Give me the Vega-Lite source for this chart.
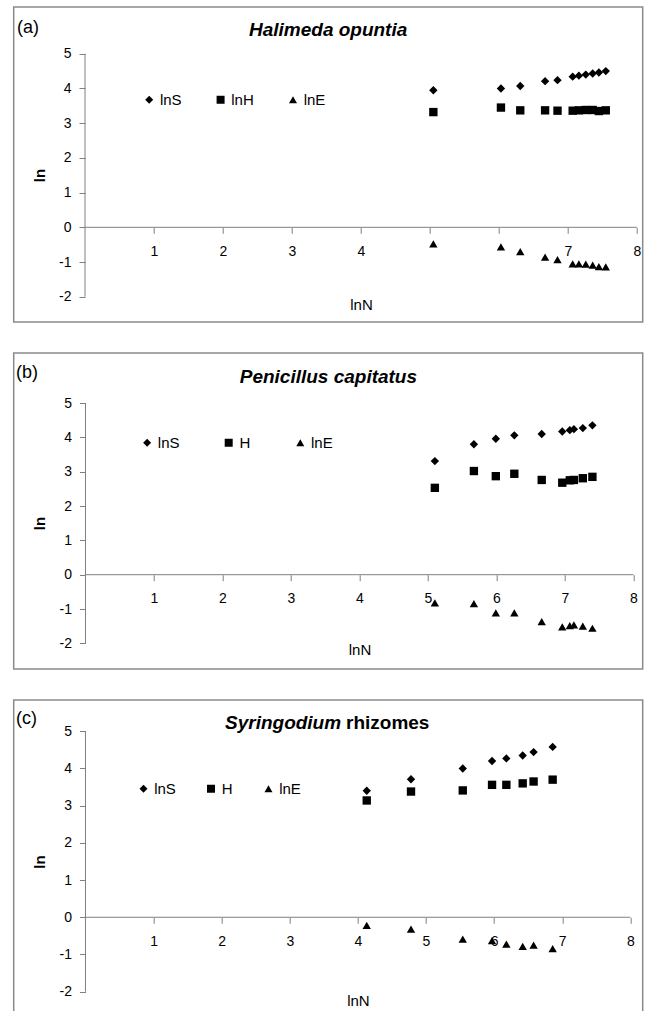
{
  "$schema": "https://vega.github.io/schema/vega-lite/v6.json",
  "padding": {"left": 12.7, "top": 6, "right": 2, "bottom": 5},
  "background": "white",
  "spacing": 31,
  "bounds": "flush",
  "config": {
    "font": "Liberation Sans",
    "view": {"stroke": "#8a8a8a", "strokeWidth": 1.5},
    "axis": {"domain": false, "grid": false, "tickColor": "#808080", "tickSize": 6, "labelColor": "#000", "labelFontSize": 14, "titleColor": "#000", "titleFontSize": 15}
  },
  "datasets": {
    "a": [
      {"lnN": 5.05, "lnS": 3.95, "lnH": 3.32, "lnE": -0.48},
      {"lnN": 6.03, "lnS": 4.00, "lnH": 3.45, "lnE": -0.56},
      {"lnN": 6.31, "lnS": 4.07, "lnH": 3.37, "lnE": -0.70},
      {"lnN": 6.67, "lnS": 4.21, "lnH": 3.37, "lnE": -0.86},
      {"lnN": 6.85, "lnS": 4.24, "lnH": 3.36, "lnE": -0.93},
      {"lnN": 7.07, "lnS": 4.34, "lnH": 3.36, "lnE": -1.05},
      {"lnN": 7.16, "lnS": 4.37, "lnH": 3.37, "lnE": -1.05},
      {"lnN": 7.26, "lnS": 4.40, "lnH": 3.38, "lnE": -1.06},
      {"lnN": 7.36, "lnS": 4.43, "lnH": 3.38, "lnE": -1.09},
      {"lnN": 7.45, "lnS": 4.46, "lnH": 3.35, "lnE": -1.13},
      {"lnN": 7.55, "lnS": 4.50, "lnH": 3.37, "lnE": -1.14}
    ],
    "b": [
      {"lnN": 5.10, "lnS": 3.31, "lnH": 2.53, "lnE": -0.82},
      {"lnN": 5.67, "lnS": 3.80, "lnH": 3.02, "lnE": -0.84},
      {"lnN": 5.99, "lnS": 3.96, "lnH": 2.87, "lnE": -1.11},
      {"lnN": 6.26, "lnS": 4.06, "lnH": 2.94, "lnE": -1.11},
      {"lnN": 6.66, "lnS": 4.10, "lnH": 2.76, "lnE": -1.37},
      {"lnN": 6.96, "lnS": 4.17, "lnH": 2.68, "lnE": -1.52},
      {"lnN": 7.07, "lnS": 4.21, "lnH": 2.75, "lnE": -1.48},
      {"lnN": 7.13, "lnS": 4.24, "lnH": 2.76, "lnE": -1.46},
      {"lnN": 7.26, "lnS": 4.27, "lnH": 2.81, "lnE": -1.50},
      {"lnN": 7.40, "lnS": 4.35, "lnH": 2.85, "lnE": -1.56}
    ],
    "c": [
      {"lnN": 4.13, "lnS": 3.40, "lnH": 3.14, "lnE": -0.22},
      {"lnN": 4.78, "lnS": 3.71, "lnH": 3.38, "lnE": -0.32},
      {"lnN": 5.54, "lnS": 4.00, "lnH": 3.41, "lnE": -0.59},
      {"lnN": 5.97, "lnS": 4.20, "lnH": 3.56, "lnE": -0.63},
      {"lnN": 6.18, "lnS": 4.27, "lnH": 3.56, "lnE": -0.72},
      {"lnN": 6.42, "lnS": 4.35, "lnH": 3.60, "lnE": -0.78},
      {"lnN": 6.58, "lnS": 4.44, "lnH": 3.65, "lnE": -0.75},
      {"lnN": 6.86, "lnS": 4.58, "lnH": 3.70, "lnE": -0.84}
    ]
  },
  "resolve": {"scale": {"shape": "independent"}, "legend": {"shape": "independent"}},
  "vconcat": [
    {
      "width": 629, "height": 315,
      "layer": [
        {
          "data": {"values": [{}]},
          "mark": {"type": "rule", "color": "#808080", "strokeWidth": 1},
          "encoding": {
            "x": {"datum": 0, "type": "quantitative", "scale": {"domain": [-1.034, 8.085], "nice": false, "zero": false}},
            "y": {"datum": -2, "type": "quantitative", "scale": {"domain": [-2.728, 6.347], "nice": false, "zero": false}},
            "y2": {"datum": 5}
          }
        },
        {
          "data": {"values": [{}]},
          "mark": {"type": "rule", "color": "#808080", "strokeWidth": 1},
          "encoding": {
            "x": {"datum": 0, "type": "quantitative", "scale": {"domain": [-1.034, 8.085], "nice": false, "zero": false}},
            "x2": {"datum": 8},
            "y": {"datum": 0, "type": "quantitative", "scale": {"domain": [-2.728, 6.347], "nice": false, "zero": false}}
          }
        },
        {
          "data": {"name": "a"},
          "transform": [{"fold": ["lnS", "lnH", "lnE"], "as": ["series", "value"]}],
          "mark": {"type": "point", "filled": true, "opacity": 1, "color": "#000", "size": 70},
          "encoding": {
            "x": {"field": "lnN", "type": "quantitative", "scale": {"domain": [-1.034, 8.085], "nice": false, "zero": false},
              "axis": {"values": [1, 2, 3, 4, 5, 6, 7, 8], "offset": -94.7, "labelPadding": 11, "labelExpr": "datum.value == 5 || datum.value == 6 ? '' : '' + datum.value", "title": "lnN", "titleFontWeight": "normal", "titleX": 347.3, "titleY": 77.2, "titleBaseline": "middle", "titleAlign": "center"}},
            "y": {"field": "value", "type": "quantitative", "scale": {"domain": [-2.728, 6.347], "nice": false, "zero": false},
              "axis": {"values": [-2, -1, 0, 1, 2, 3, 4, 5], "offset": -71.3, "labelPadding": 8, "labelExpr": "'' + datum.value", "title": "ln", "titleFontWeight": "bold", "titleAngle": -90, "titleX": -45, "titleY": 168, "titleBaseline": "middle", "titleAlign": "center"}},
            "shape": {"field": "series", "type": "nominal", "scale": {"domain": ["lnS", "lnH", "lnE"], "range": ["diamond", "square", "triangle-up"]},
              "legend": {"orient": "none", "legendX": 128, "legendY": 85, "direction": "horizontal", "title": null, "padding": 0, "labelFontSize": 15, "labelColor": "#000", "labelOffset": 3.2, "columnPadding": 31.4, "symbolSize": 64, "symbolFillColor": "#000", "symbolStrokeWidth": 0}}
          }
        },
        {
          "data": {"values": [{}]},
          "mark": {"type": "text", "text": "(a)", "align": "left", "baseline": "alphabetic", "fontSize": 18, "color": "#000"},
          "encoding": {
            "x": {"datum": -0.987, "type": "quantitative", "scale": {"domain": [-1.034, 8.085], "nice": false, "zero": false}},
            "y": {"datum": 5.612, "type": "quantitative", "scale": {"domain": [-2.728, 6.347], "nice": false, "zero": false}}
          }
        },
        {
          "data": {"values": [{}]},
          "mark": {"type": "text", "text": "Halimeda opuntia", "align": "center", "baseline": "alphabetic", "fontSize": 19, "fontWeight": "bold", "fontStyle": "italic", "color": "#000"},
          "encoding": {
            "x": {"datum": 3.525, "type": "quantitative", "scale": {"domain": [-1.034, 8.085], "nice": false, "zero": false}},
            "y": {"datum": 5.511, "type": "quantitative", "scale": {"domain": [-2.728, 6.347], "nice": false, "zero": false}}
          }
        }
      ]
    },
    {
      "width": 629, "height": 316,
      "layer": [
        {
          "data": {"values": [{}]},
          "mark": {"type": "rule", "color": "#808080", "strokeWidth": 1},
          "encoding": {
            "x": {"datum": 0, "type": "quantitative", "scale": {"domain": [-1.048, 8.134], "nice": false, "zero": false}},
            "y": {"datum": -2, "type": "quantitative", "scale": {"domain": [-2.747, 6.458], "nice": false, "zero": false}},
            "y2": {"datum": 5}
          }
        },
        {
          "data": {"values": [{}]},
          "mark": {"type": "rule", "color": "#808080", "strokeWidth": 1},
          "encoding": {
            "x": {"datum": 0, "type": "quantitative", "scale": {"domain": [-1.048, 8.134], "nice": false, "zero": false}},
            "x2": {"datum": 8},
            "y": {"datum": 0, "type": "quantitative", "scale": {"domain": [-2.747, 6.458], "nice": false, "zero": false}}
          }
        },
        {
          "data": {"name": "b"},
          "transform": [{"fold": ["lnS", "lnH", "lnE"], "as": ["series", "value"]}],
          "mark": {"type": "point", "filled": true, "opacity": 1, "color": "#000", "size": 70},
          "encoding": {
            "x": {"field": "lnN", "type": "quantitative", "scale": {"domain": [-1.048, 8.134], "nice": false, "zero": false},
              "axis": {"values": [1, 2, 3, 4, 5, 6, 7, 8], "offset": -94.3, "labelPadding": 11, "labelExpr": "'' + datum.value", "title": "lnN", "titleFontWeight": "normal", "titleX": 345.8, "titleY": 75.3, "titleBaseline": "middle", "titleAlign": "center"}},
            "y": {"field": "value", "type": "quantitative", "scale": {"domain": [-2.747, 6.458], "nice": false, "zero": false},
              "axis": {"values": [-2, -1, 0, 1, 2, 3, 4, 5], "offset": -71.8, "labelPadding": 8, "labelExpr": "'' + datum.value", "title": "ln", "titleFontWeight": "bold", "titleAngle": -90, "titleX": -45.5, "titleY": 170, "titleBaseline": "middle", "titleAlign": "center"}},
            "shape": {"field": "series", "type": "nominal", "scale": {"domain": ["lnS", "lnH", "lnE"], "range": ["diamond", "square", "triangle-up"]},
              "legend": {"orient": "none", "legendX": 125.9, "legendY": 82, "direction": "horizontal", "title": null, "padding": 0, "labelFontSize": 15, "labelColor": "#000", "labelOffset": 3.2, "columnPadding": 41.6, "symbolSize": 64, "symbolFillColor": "#000", "symbolStrokeWidth": 0, "labelExpr": "datum.label == 'lnH' ? 'H' : datum.label"}}
          }
        },
        {
          "data": {"values": [{}]},
          "mark": {"type": "text", "text": "(b)", "align": "left", "baseline": "alphabetic", "fontSize": 18, "color": "#000"},
          "encoding": {
            "x": {"datum": -1.015, "type": "quantitative", "scale": {"domain": [-1.048, 8.134], "nice": false, "zero": false}},
            "y": {"datum": 5.744, "type": "quantitative", "scale": {"domain": [-2.747, 6.458], "nice": false, "zero": false}}
          }
        },
        {
          "data": {"values": [{}]},
          "mark": {"type": "text", "text": "Penicillus capitatus", "align": "center", "baseline": "alphabetic", "fontSize": 19, "fontWeight": "bold", "fontStyle": "italic", "color": "#000"},
          "encoding": {
            "x": {"datum": 3.546, "type": "quantitative", "scale": {"domain": [-1.048, 8.134], "nice": false, "zero": false}},
            "y": {"datum": 5.575, "type": "quantitative", "scale": {"domain": [-2.747, 6.458], "nice": false, "zero": false}}
          }
        }
      ]
    },
    {
      "width": 629, "height": 320,
      "layer": [
        {
          "data": {"values": [{}]},
          "mark": {"type": "rule", "color": "#808080", "strokeWidth": 1},
          "encoding": {
            "x": {"datum": 0, "type": "quantitative", "scale": {"domain": [-1.054, 8.182], "nice": false, "zero": false}},
            "y": {"datum": -2, "type": "quantitative", "scale": {"domain": [-2.761, 5.841], "nice": false, "zero": false}},
            "y2": {"datum": 5}
          }
        },
        {
          "data": {"values": [{}]},
          "mark": {"type": "rule", "color": "#808080", "strokeWidth": 1},
          "encoding": {
            "x": {"datum": 0, "type": "quantitative", "scale": {"domain": [-1.054, 8.182], "nice": false, "zero": false}},
            "x2": {"datum": 8},
            "y": {"datum": 0, "type": "quantitative", "scale": {"domain": [-2.761, 5.841], "nice": false, "zero": false}}
          }
        },
        {
          "data": {"name": "c"},
          "transform": [{"fold": ["lnS", "lnH", "lnE"], "as": ["series", "value"]}],
          "mark": {"type": "point", "filled": true, "opacity": 1, "color": "#000", "size": 70},
          "encoding": {
            "x": {"field": "lnN", "type": "quantitative", "scale": {"domain": [-1.054, 8.182], "nice": false, "zero": false},
              "axis": {"values": [1, 2, 3, 4, 5, 6, 7, 8], "offset": -102.7, "labelPadding": 11, "labelExpr": "'' + datum.value", "title": "lnN", "titleFontWeight": "normal", "titleX": 344.2, "titleY": 83, "titleBaseline": "middle", "titleAlign": "center"}},
            "y": {"field": "value", "type": "quantitative", "scale": {"domain": [-2.761, 5.841], "nice": false, "zero": false},
              "axis": {"values": [-2, -1, 0, 1, 2, 3, 4, 5], "offset": -71.8, "labelPadding": 8, "labelExpr": "'' + datum.value", "title": "ln", "titleFontWeight": "bold", "titleAngle": -90, "titleX": -45.5, "titleY": 161.5, "titleBaseline": "middle", "titleAlign": "center"}},
            "shape": {"field": "series", "type": "nominal", "scale": {"domain": ["lnS", "lnH", "lnE"], "range": ["diamond", "square", "triangle-up"]},
              "legend": {"orient": "none", "legendX": 122.3, "legendY": 81, "direction": "horizontal", "title": null, "padding": 0, "labelFontSize": 15, "labelColor": "#000", "labelOffset": 3.2, "columnPadding": 27.5, "symbolSize": 64, "symbolFillColor": "#000", "symbolStrokeWidth": 0, "labelExpr": "datum.label == 'lnH' ? 'H' : datum.label"}}
          }
        },
        {
          "data": {"values": [{}]},
          "mark": {"type": "text", "text": "(c)", "align": "left", "baseline": "alphabetic", "fontSize": 18, "color": "#000"},
          "encoding": {
            "x": {"datum": -1.02, "type": "quantitative", "scale": {"domain": [-1.054, 8.182], "nice": false, "zero": false}},
            "y": {"datum": 5.196, "type": "quantitative", "scale": {"domain": [-2.761, 5.841], "nice": false, "zero": false}}
          }
        },
        {
          "data": {"values": [{}]},
          "mark": {"type": "text", "text": "Syringodium", "align": "right", "dx": -2.5, "baseline": "alphabetic", "fontSize": 19, "fontWeight": "bold", "fontStyle": "italic", "color": "#000"},
          "encoding": {
            "x": {"datum": 3.79, "type": "quantitative", "scale": {"domain": [-1.054, 8.182], "nice": false, "zero": false}},
            "y": {"datum": 5.054, "type": "quantitative", "scale": {"domain": [-2.761, 5.841], "nice": false, "zero": false}}
          }
        },
        {
          "data": {"values": [{}]},
          "mark": {"type": "text", "text": "rhizomes", "align": "left", "dx": 2.5, "baseline": "alphabetic", "fontSize": 19, "fontWeight": "bold", "color": "#000"},
          "encoding": {
            "x": {"datum": 3.79, "type": "quantitative", "scale": {"domain": [-1.054, 8.182], "nice": false, "zero": false}},
            "y": {"datum": 5.054, "type": "quantitative", "scale": {"domain": [-2.761, 5.841], "nice": false, "zero": false}}
          }
        }
      ]
    }
  ]
}
